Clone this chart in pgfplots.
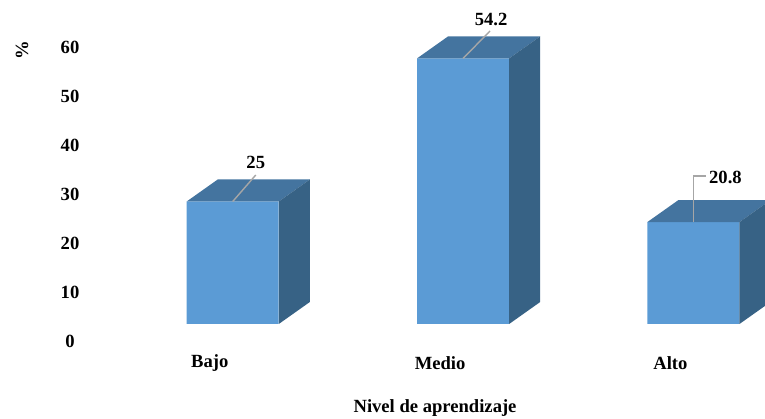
\documentclass[border=0pt]{standalone}
\usepackage{pgfplots}
\usepackage{fontspec}
\setmainfont{Liberation Serif}
\pgfplotsset{compat=1.18}
\definecolor{frontc}{HTML}{5B9BD5}
\definecolor{topc}{HTML}{44749F}
\definecolor{sidec}{HTML}{376285}
\definecolor{leadc}{HTML}{A6A6A6}
\newcommand{\lab}{\fontsize{18.6}{20}\selectfont\bfseries}
\begin{document}
\begin{tikzpicture}[x=1pt,y=1pt]
\path[use as bounding box] (0,0) rectangle (765,419);
\begin{axis}[
  at={(88pt,78pt)}, anchor=south west,
  scale only axis, width=677pt, height=341pt,
  xmin=-0.6283, xmax=2.3108, ymin=-3.469, ymax=66.122,
  clip=false, no markers,
  axis line style={draw=none},
  major tick length=0pt,
  xtick={0,1,2}, xticklabels={Bajo,Medio,Alto},
  ytick={-3.469,6.531,16.531,26.531,36.531,46.531,56.531},
  yticklabels={0,10,20,30,40,50,60},
  tick label style={font=\lab},
  /pgf/number format/assume math mode=true,
  xticklabel style={xshift=-23pt, anchor=center, yshift=-22.5pt},
  yticklabel style={anchor=center, xshift=-18pt},
  xlabel={Nivel de aprendizaje}, ylabel={\%},
  xlabel style={font=\lab, at={(axis description cs:0.5126,-0.198)}, anchor=center},
  ylabel style={font=\lab, at={(axis description cs:-0.0975,0.8534)}, anchor=center, rotate=0},
]
% front faces
\addplot[ybar, bar width=92pt, bar shift=0pt, fill=frontc, draw=none] coordinates {(0,25) (1,54.2) (2,20.8)};
% top faces
\addplot[fill=topc, draw=none] coordinates {(-0.2,25) (0.2,25) (0.3348,29.49) (-0.0652,29.49) (-0.2,25)};
\addplot[fill=topc, draw=none] coordinates {(0.8,54.2) (1.2,54.2) (1.3348,58.69) (0.9348,58.69) (0.8,54.2)};
\addplot[fill=topc, draw=none] coordinates {(1.8,20.8) (2.2,20.8) (2.3348,25.29) (1.9348,25.29) (1.8,20.8)};
% side faces
\addplot[fill=sidec, draw=none] coordinates {(0.2,0) (0.3348,4.49) (0.3348,29.49) (0.2,25) (0.2,0)};
\addplot[fill=sidec, draw=none] coordinates {(1.2,0) (1.3348,4.49) (1.3348,58.69) (1.2,54.2) (1.2,0)};
\addplot[fill=sidec, draw=none] coordinates {(2.2,0) (2.3348,4.49) (2.3348,25.29) (2.2,20.8) (2.2,0)};
% leader lines
\addplot[leadc, line width=1.4pt] coordinates {(0,25) (0.1,30.41)};
\addplot[leadc, line width=1.4pt] coordinates {(1,54.2) (1.117,59.8)};
\addplot[leadc, line width=1.4pt] coordinates {(2,20.8) (2,30.2) (2.0565,30.2)};
\node[font=\lab] at (axis cs:0.1,33.06) {25};
\node[font=\lab] at (axis cs:1.122,62.24) {54.2};
\node[font=\lab] at (axis cs:2.139,30.0) {20.8};
\end{axis}
\end{tikzpicture}
\end{document}
